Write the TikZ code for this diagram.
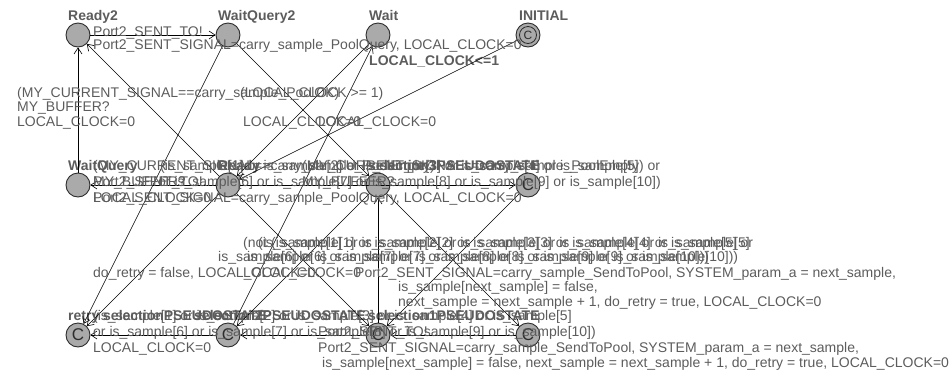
\documentclass[tikz,border=0pt]{standalone}
\usepackage{fontspec}
\setmainfont{Liberation Sans}
\usetikzlibrary{arrows.meta}
\definecolor{txt}{RGB}{92,92,92}
\definecolor{locfill}{RGB}{170,170,170}
\definecolor{locdraw}{RGB}{45,45,45}
\tikzset{
  loc/.style={circle, draw=locdraw, fill=locfill, line width=0.9pt, minimum size=24pt, inner sep=0pt},
  com/.style={loc, font=\fontsize{17}{17}\selectfont, text=locdraw},
  lab/.style={anchor=base west, inner sep=0pt, text=txt, font=\fontsize{14}{14}\selectfont},
  nm/.style={lab, font=\fontsize{14}{14}\selectfont\bfseries},
  edge/.style={draw=black, line width=0.6pt, -{Straight Barb[length=6pt,width=8pt]}}
}
\begin{document}
\begin{tikzpicture}[x=1pt,y=-1pt]
\useasboundingbox (0,0) rectangle (951,373);
% locations
\node[loc] (Ready2) at (78,35) {};
\node[loc] (WaitQuery2) at (228,35) {};
\node[loc] (Wait) at (378,35) {};
\node[loc] (INITIAL) at (528,35) {};
\node[circle, draw=locdraw, line width=0.8pt, minimum size=17pt, inner sep=0pt, font=\fontsize{12}{12}\selectfont, text=locdraw] (INITin) at (528,35) {C};
\node[loc] (WaitQuery) at (78,185) {};
\node[loc] (Ready) at (228,185) {};
\node[loc] (Mid) at (378,185) {};
\node[com] (C1) at (528,185) {C};
\node[com] (retry) at (78,335) {C};
\node[com] (S2) at (228,335) {C};
\node[com] (S3) at (378,335) {C};
\node[com] (S4) at (528,335) {C};
% names
\node[nm] (nReady2) at (68,20) {Ready2};
\node[nm] (nWaitQuery2) at (218,20) {WaitQuery2};
\node[nm] (nWait) at (369,20) {Wait};
\node[nm] (nINITIAL) at (519,20) {INITIAL};
\node[nm] (invWait) at (369,65) {LOCAL\_CLOCK<=1};
\node[nm] (nWaitQuery) at (68,170) {WaitQuery};
\node[nm] (nReady) at (218,170) {Ready};
\node[nm] (nMid) at (368,170) {selection3PSEUDOSTATE};
\node[nm] (nretry) at (68,320) {retry};
\node[nm] (nS0) at (103,320) {selectionPSEUDOSTATE};
\node[nm] (nS2) at (194,320) {selection2PSEUDOSTATE};
\node[nm] (nS3) at (368,320) {selection1PSEUDOSTATE};
% edges
\draw[edge] (Ready2) -- (WaitQuery2);
\draw[edge] (WaitQuery) -- (Ready2);
\draw[edge] (Ready) -- (WaitQuery);
\draw[edge] (Ready) -- (C1);
\draw[edge] (Ready) -- (Ready2);
\draw[edge] (Ready) -- (S3);
\draw[edge] (Wait) -- (Ready);
\draw[edge] (Ready) -- (retry);
\draw[edge] (INITIAL) -- (Ready);
\draw[edge] (WaitQuery2) -- (retry);
\draw[edge] (S2) -- (Wait);
\draw[edge] (WaitQuery2) -- (Mid);
\draw[edge] (Mid) -- (S4);
\draw[edge] (Mid) -- (S2);
\draw[edge] (S3) -- (Mid);
\draw[edge] (C1) -- (S3);
\draw[edge] (S2) -- (retry);
\draw[edge] (S3) -- (S2);
\draw[edge] (S4) -- (S3);
% labels row 1
\node[lab] (a1) at (93,36) {Port2\_SENT\_TO!};
\node[lab] (a2) at (93,49) {Port2\_SENT\_SIGNAL=carry\_sample\_PoolQuery, LOCAL\_CLOCK=0};
\node[lab] (b1) at (17,97) {(MY\_CURRENT\_SIGNAL==carry\_sample\_PoolOK)};
\node[lab] (b2) at (17,111) {MY\_BUFFER?};
\node[lab] (b3) at (17,126) {LOCAL\_CLOCK=0};
\node[lab] (c1) at (240,97) {(LOCAL\_CLOCK >= 1)};
\node[lab] (c2) at (243,126) {LOCAL\_CLOCK=0};
\node[lab] (d1) at (318,126) {LOCAL\_CLOCK=0};
% labels row 2
\node[lab] (e1) at (93,186) {Port2\_SENT\_TO!};
\node[lab] (e2) at (93,202) {Port2\_SENT\_SIGNAL=carry\_sample\_PoolQuery, LOCAL\_CLOCK=0};
\node[lab] (f1) at (93,170) {(MY\_CURRENT\_SIGNAL==carry\_sample\_PoolEmpty)};
\node[lab] (f2) at (93,186) {MY\_BUFFER?};
\node[lab] (f3) at (93,202) {LOCAL\_CLOCK=0};
\node[lab] (g1) at (302,170) {(MY\_CURRENT\_SIGNAL==carry\_sample\_PoolEmpty) or};
\node[lab] (g2) at (302,186) {MY\_BUFFER?};
\node[lab] (h1) at (160,170) {(is\_sample[1] or is\_sample[2] or is\_sample[3] or is\_sample[4] or is\_sample[5]};
\node[lab] (h2) at (158,186) {or is\_sample[6] or is\_sample[7] or is\_sample[8] or is\_sample[9] or is\_sample[10])};
% labels row 240-300
\node[lab] (i1) at (243,247) {(not (is\_sample[1] or is\_sample[2] or is\_sample[3] or is\_sample[4] or is\_sample[5]};
\node[lab] (i2) at (247,261) {is\_sample[6] or is\_sample[7] or is\_sample[8] or is\_sample[9] or is\_sample[10]))};
\node[lab] (i3) at (258,247) {(is\_sample[1] or is\_sample[2] or is\_sample[3] or is\_sample[4] or is\_sample[5] or};
\node[lab] (i4) at (218,261) {is\_sample[6] or is\_sample[7] or is\_sample[8] or is\_sample[9] or is\_sample[10]))};
\node[lab] (j1) at (93,277) {do\_retry = false, LOCAL\_CLOCK=0};
\node[lab] (j2) at (243,277) {LOCAL\_CLOCK=0};
\node[lab] (k1) at (355,277) {Port2\_SENT\_SIGNAL=carry\_sample\_SendToPool, SYSTEM\_param\_a = next\_sample,};
\node[lab] (k2) at (398,291) {is\_sample[next\_sample] = false,};
\node[lab] (k3) at (398,306) {next\_sample = next\_sample + 1, do\_retry = true, LOCAL\_CLOCK=0};
% labels row 3
\node[lab] (m1) at (93,320) {(is\_sample[1] or is\_sample[2] or is\_sample[3] or is\_sample[4] or is\_sample[5]};
\node[lab] (m2) at (93,336) {or is\_sample[6] or is\_sample[7] or is\_sample[8] or is\_sample[9] or is\_sample[10])};
\node[lab] (m3) at (93,352) {LOCAL\_CLOCK=0};
\node[lab] (n1) at (318,336) {Port2\_SENT\_TO!};
\node[lab] (n2) at (318,352) {Port2\_SENT\_SIGNAL=carry\_sample\_SendToPool, SYSTEM\_param\_a = next\_sample,};
\node[lab] (n3) at (322,367) {is\_sample[next\_sample] = false, next\_sample = next\_sample + 1, do\_retry = true, LOCAL\_CLOCK=0};
\end{tikzpicture}
\end{document}
